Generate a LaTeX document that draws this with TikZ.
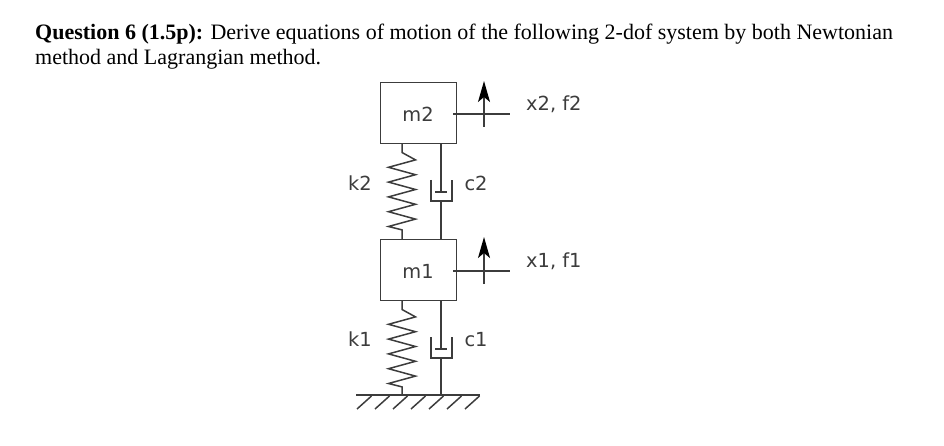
\documentclass[tikz,border=0pt]{standalone}
\usepackage{fontspec}
\setmainfont{Liberation Serif}
\newfontfamily\labelfont{DejaVu Sans}
\usetikzlibrary{arrows.meta}
\definecolor{linecol}{HTML}{3C3C3C}
\tikzset{
  mass/.style = {draw=linecol, line width=1.5pt, minimum width=76pt, minimum height=61pt, inner sep=0pt},
  lab/.style = {font=\labelfont\fontsize{19.4}{22}\selectfont, text=linecol, inner sep=0pt, anchor=base},
  wire/.style = {draw=linecol, line width=1.5pt},
  force/.style = {wire, -{Stealth[length=21pt,width=12pt,inset=5pt,color=black]}}
}
\begin{document}
\begin{tikzpicture}[x=1pt, y=-1pt]
  \useasboundingbox (0,0) rectangle (944,446);
  \node[anchor=base west, align=left, inner sep=0pt, font=\fontsize{22}{25}\selectfont] (title) at (35,65)
    {\textbf{Question 6 (1.5p):} Derive equations of motion of the following 2-dof system by both Newtonian\\
     method and Lagrangian method.};

  % masses
  \node[mass] (m2) at (418.5,113) {};
  \node[mass] (m1) at (418.5,270) {};
  \node[lab] (m2lab) at (418,122) {m2};
  \node[lab] (m1lab) at (418,278.5) {m1};

  % ground
  \coordinate (gndl) at (356,395);
  \coordinate (gndr) at (480,395);
  \draw[wire] (gndl) -- (gndr);
  \foreach \x in {357,375,393,411,429,447,465}
    \draw[wire] (\x,409) -- ++(14.5,-13);

  % springs
  \coordinate (k2top) at (402,144);
  \coordinate (k2bot) at (402,239);
  \coordinate (k1top) at (402,301);
  \coordinate (k1bot) at (402,395);
  \foreach \name in {k2,k1}
    \draw[wire] (\name top) -- ++(0,8.5) -- ++(13.5,7.4)
      -- ++(-27,7.4) -- ++(27,7.4) -- ++(-27,7.4) -- ++(27,7.4)
      -- ++(-27,7.4) -- ++(27,7.4) -- ++(-27,7.4) -- ++(27,7.4)
      -- ++(-27,7.4) -- ++(13.5,3.4) -- (\name bot);
  \node[lab] (k2lab) at (360,191) {k2};
  \node[lab] (k1lab) at (360,346) {k1};

  % dampers
  \foreach \name/\ytop/\yend/\ylow in {c2/144/239/180, c1/301/395/337} {
    \coordinate (\name top) at (441,\ytop);
    \coordinate (\name bot) at (441,\yend);
    \coordinate (\name pis) at (441,\ylow+12);
    \coordinate (\name cup) at (441,\ylow+21);
    \draw[wire] (\name top) -- (\name pis);
    \draw[wire] (\name cup) -- (\name bot);
    \draw[wire] (435,\ylow+12) -- (447,\ylow+12);
    \draw[wire] (431,\ylow) -- (431,\ylow+21) -- (452,\ylow+21) -- (452,\ylow);
  }
  \node[lab] (c2lab) at (476,191) {c2};
  \node[lab] (c1lab) at (476,346) {c1};

  % displacements and forces
  \coordinate (x2a) at (453,114);
  \coordinate (x2b) at (510,114);
  \coordinate (x1a) at (453,271);
  \coordinate (x1b) at (510,271);
  \coordinate (f2a) at (484,127);
  \coordinate (f2b) at (484,81);
  \coordinate (f1a) at (484,284);
  \coordinate (f1b) at (484,237);
  \draw[wire] (x2a) -- (x2b);
  \draw[wire] (x1a) -- (x1b);
  \draw[force] (f2a) -- (f2b);
  \draw[force] (f1a) -- (f1b);
  \node[lab, anchor=base west] (x2lab) at (526,111) {x2, f2};
  \node[lab, anchor=base west] (x1lab) at (526,267) {x1, f1};
\end{tikzpicture}
\end{document}
